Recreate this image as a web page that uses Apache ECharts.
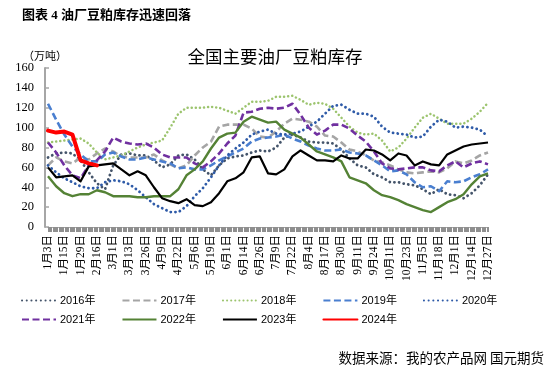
<!DOCTYPE html>
<html>
<head>
<meta charset="utf-8">
<script src="https://cdn.jsdelivr.net/npm/echarts@6/dist/echarts.min.js"></script>
<style>html,body{margin:0;padding:0;background:#fff}#c{width:554px;height:368px}</style>
</head>
<body>
<div id="c"></div>
<script>
const categories = ['1月3日','1月9日','1月15日','1月22日','1月29日','2月7日','2月16日','2月22日','3月1日','3月7日','3月13日','3月19日','3月26日','4月2日','4月9日','4月15日','4月22日','4月29日','5月6日','5月12日','5月19日','5月25日','6月1日','6月7日','6月14日','6月20日','6月26日','7月3日','7月9日','7月15日','7月22日','7月28日','8月4日','8月10日','8月17日','8月23日','8月30日','9月5日','9月11日','9月17日','9月24日','10月3日','10月11日','10月17日','10月23日','10月29日','11月5日','11月11日','11月18日','11月24日','12月1日','12月7日','12月14日','12月20日','12月27日'];
const seriesNames = ['2016年','2017年','2018年','2019年','2020年','2021年','2022年','2023年','2024年'];
const y2016 = [70,74,75,74,67,55,44,38,62,73,74,72,72,67,60,63,72,73,68,58,52,62,69,71,72,75,77,76,80,90,93,90,86,85,85,84,78,69,62,60,53,50,45,45,43,42,38,33,38,33,32,29,34,42,53];
const y2017 = [62,70,66,64,70,68,74,79,76,71,70,70,70,73,67,63,59,62,72,80,86,101,103,103,103,99,91,90,96,104,109,108,106,101,92,91,85,78,76,72,67,65,62,58,55,54,55,56,55,59,66,64,67,72,75];
const y2018 = [85,86,87,88,89,84,75,68,70,72,76,80,83,85,87,100,114,120,120,120,121,120,117,114,120,126,126,127,131,131,132,128,123,125,124,119,110,101,95,93,94,87,76,80,89,100,110,114,109,104,104,104,109,116,125];
const y2019 = [124,108,93,81,73,66,66,73,75,71,68,68,70,68,66,64,59,60,58,58,62,67,71,75,79,86,89,90,91,93,89,86,82,79,77,77,78,75,74,72,67,62,56,57,53,45,40,41,36,46,45,46,50,53,58];
const y2020 = [62,55,49,45,41,39,39,45,47,46,43,37,30,23,19,15,15,21,31,39,50,62,72,79,85,93,96,98,94,93,94,96,101,106,114,122,123,118,114,114,111,101,95,94,93,90,91,101,108,106,100,101,100,98,91];
const y2021 = [85,75,62,52,49,62,67,76,90,86,84,83,84,80,73,70,70,70,64,60,66,74,84,92,115,116,119,120,119,120,124,113,100,93,97,103,103,99,92,86,76,64,59,58,59,60,60,57,56,62,66,60,64,66,63];
const y2022 = [51,41,34,31,33,33,37,35,31,31,31,30,30,31,31,31,38,52,58,66,79,90,94,95,106,111,108,105,106,98,94,90,83,76,73,70,66,50,47,44,37,32,30,27,23,20,17,15,20,25,28,33,43,51,54];
const y2023 = [60,50,51,52,46,61,62,63,64,58,52,56,52,40,29,26,24,28,22,21,25,34,46,49,55,70,71,54,53,58,71,77,72,67,67,66,72,69,69,78,77,73,67,74,72,62,66,63,62,73,77,81,83,84,85];
const y2024 = [97,95,96,93,67,64,62];
const yTicks = [0,20,40,60,80,100,120,140,160];

const values = [y2016,y2017,y2018,y2019,y2020,y2021,y2022,y2023,y2024];
const styles = [
  {color:'#44546A', width:2.8, type:[0.1,4.6], cap:'round'},
  {color:'#A5A5A5', width:2.6, type:[7,3.5], cap:'butt'},
  {color:'#9CC46E', width:2.5, type:[0.1,4], cap:'round'},
  {color:'#4A7FD0', width:2.6, type:[7,3.5], cap:'butt'},
  {color:'#2F5BA8', width:2.8, type:[0.1,4.6], cap:'round'},
  {color:'#7030A0', width:2.6, type:[7,3.5], cap:'butt'},
  {color:'#548235', width:2.4, type:'solid', cap:'butt'},
  {color:'#000000', width:2.2, type:'solid', cap:'butt'},
  {color:'#FF0000', width:4, type:'solid', cap:'round'}
];
const tickCats = [];
for (let d = 0; d < 365; d++) tickCats.push(String(d));

const chart = echarts.init(document.getElementById('c'), null, {renderer:'canvas'});
const cjk = "'Noto Sans CJK SC'";
const legendCommon = {
  left: 21, padding: 0, itemWidth: 34, itemHeight: 12, itemGap: 26,
  itemStyle: {opacity: 0},
  textStyle: {fontSize: 11, color: '#000', fontFamily: "'Liberation Sans'," + cjk, padding: [0,0,0,-1]}
};
chart.setOption({
  animation: false,
  backgroundColor: '#fff',
  grid: {left: 48, right: 66, top: 68, bottom: 141, containLabel: false},
  title: [
    {text: '图表 4 油厂豆粕库存迅速回落', left: 17, top: 4,
     textStyle: {fontSize: 13, fontWeight: 'bold', color: '#000', fontFamily: "'Liberation Serif'," + cjk}},
    {text: '全国主要油厂豆粕库存', left: 270, top: 43, textAlign: 'center',
     textStyle: {fontSize: 17.5, fontWeight: 'normal', color: '#000', fontFamily: cjk}},
    {text: '（万吨）', left: 18, top: 45,
     textStyle: {fontSize: 11, fontWeight: 'normal', color: '#000', fontFamily: cjk}},
    {text: '数据来源：我的农产品网 国元期货', right: 5, top: 346,
     textStyle: {fontSize: 13.5, fontWeight: 'normal', color: '#000', fontFamily: cjk}}
  ],
  legend: [
    Object.assign({data: seriesNames.slice(0,5), top: 295}, legendCommon),
    Object.assign({data: seriesNames.slice(5), top: 314}, legendCommon)
  ],
  xAxis: [
    {type: 'category', data: categories, boundaryGap: false,
     axisLine: {show: true, lineStyle: {color: '#8C8C8C', width: 1}},
     axisTick: {show: false},
     axisLabel: {interval: 1, rotate: 90, fontSize: 11.5, margin: 8, color: '#000',
                 fontFamily: "'Liberation Serif'," + cjk},
     splitLine: {show: false}},
    {type: 'category', data: tickCats, boundaryGap: false, position: 'bottom',
     axisLine: {show: true, lineStyle: {color: '#A6A6A6', width: 1}},
     axisTick: {show: true, interval: 0, length: 5, lineStyle: {color: '#8F8F8F', width: 1}},
     axisLabel: {show: false}, splitLine: {show: false}}
  ],
  yAxis: {
    type: 'value', min: yTicks[0], max: yTicks[yTicks.length-1], interval: 20, offset: 3,
    axisLine: {show: true, lineStyle: {color: '#A6A6A6', width: 2}},
    axisTick: {show: true, inside: true, length: 4, lineStyle: {color: '#A6A6A6', width: 1.5}},
    axisLabel: {fontSize: 12.5, color: '#000', margin: 11, fontFamily: "'Liberation Serif'"},
    splitLine: {show: false}
  },
  series: seriesNames.map((n, i) => ({
    name: n, type: 'line', data: values[i], symbol: 'none', smooth: false,
    xAxisIndex: 0, yAxisIndex: 0,
    lineStyle: {color: styles[i].color, width: styles[i].width, type: styles[i].type, cap: styles[i].cap, join: 'round'},
    itemStyle: {color: styles[i].color},
    z: 2 + i
  }))
});
</script>
</body>
</html>
